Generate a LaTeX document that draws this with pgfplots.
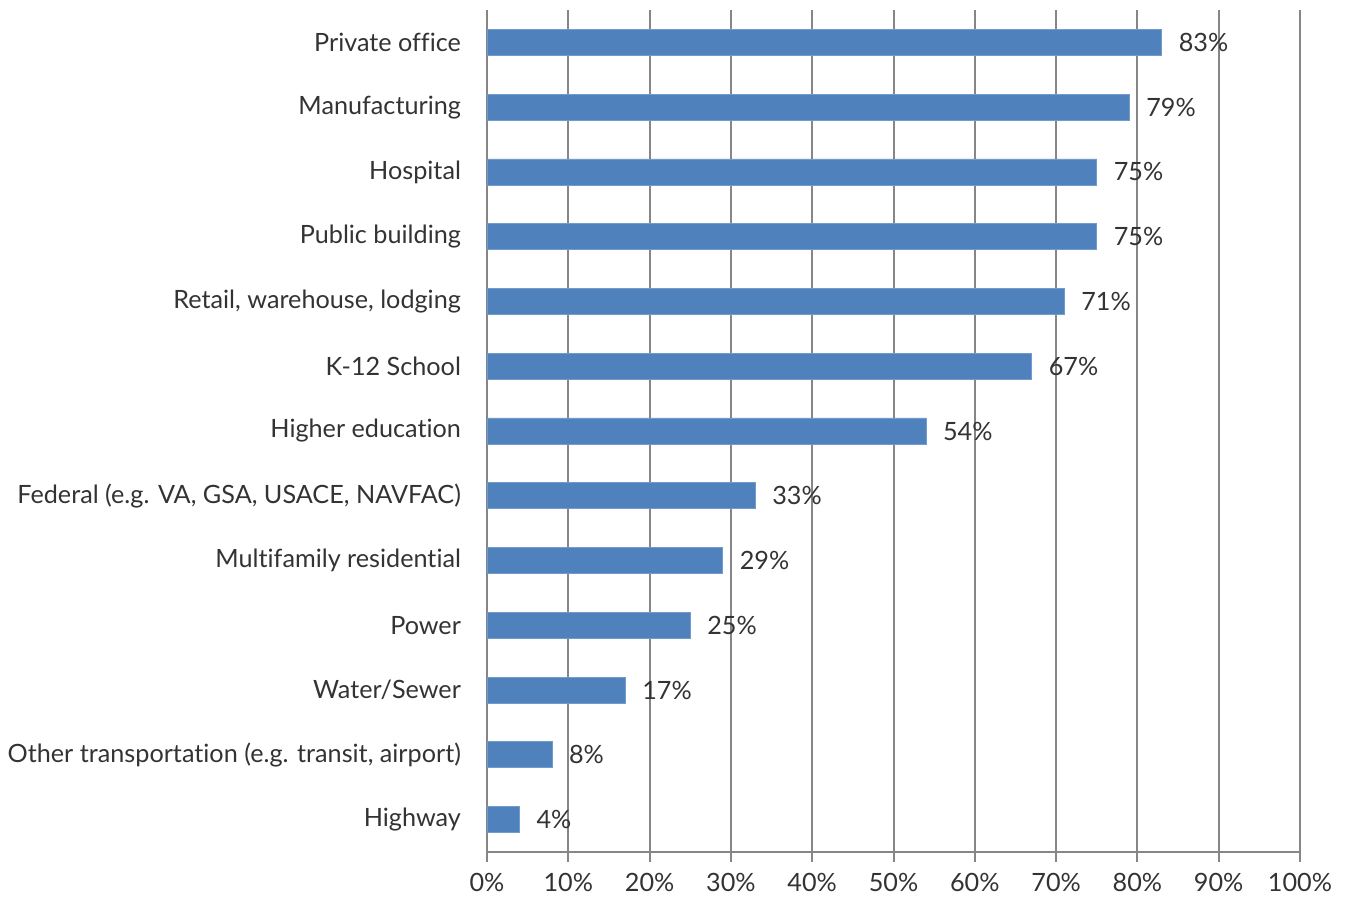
\documentclass[border=0pt]{standalone}
\usepackage{pgfplots}
\pgfplotsset{compat=1.18}
\usepackage{fontspec}
\setmainfont{Lato}[Ligatures=NoCommon]
\definecolor{barblue}{HTML}{4F81BD}
\definecolor{gridgray}{HTML}{868686}
\begin{document}
\begin{tikzpicture}
\begin{axis}[
  xbar, scale only axis,
  width=406.5pt, height=421pt,
  xmin=0, xmax=100, ymin=-0.5, ymax=12.5,
  axis x line*=bottom, axis y line*=left,
  axis line style={gridgray, line width=1pt},
  xtick={0,10,...,100},
  xticklabel={\pgfmathprintnumber{\tick}\%},
  xmajorgrids, major grid style={gridgray, line width=1pt},
  x tick style={gridgray, line width=1pt},
  tick align=outside, major tick length=5pt,
  ytick={0,...,12},
  yticklabels={Highway, {Other transportation (e.g. transit, airport)}, Water/Sewer, Power, Multifamily residential, {Federal (e.g. VA, GSA, USACE, NAVFAC)}, Higher education, K-12 School, {Retail, warehouse, lodging}, Public building, Hospital, Manufacturing, Private office},
  y tick style={draw=none},
  minor ytick={-0.5,0.5,...,12.5},
  minor y tick style={gridgray, line width=1pt},
  minor tick length=5pt,
  ticklabel style={font=\fontsize{12.6pt}{14pt}\selectfont, text=black!80},
  yticklabel style={xshift=-4.5pt},
  xticklabel style={yshift=-2pt},
  /pgf/number format/assume math mode=true,
  bar width=13pt,
  nodes near coords={\pgfmathprintnumber{\pgfplotspointmeta}\%},
  nodes near coords style={font=\fontsize{12.6pt}{14pt}\selectfont, text=black!80, anchor=west, xshift=5pt},
  clip=false,
]
\addplot[fill=barblue, draw=barblue!80!white] coordinates {
 (4,0) (8,1) (17,2) (25,3) (29,4) (33,5) (54,6) (67,7) (71,8) (75,9) (75,10) (79,11) (83,12)
};
\end{axis}
\pgfresetboundingbox
\path ([shift={(-243.5pt,-23pt)}]current axis.south west) rectangle ([shift={(23pt,5pt)}]current axis.north east);
\end{tikzpicture}
\end{document}
